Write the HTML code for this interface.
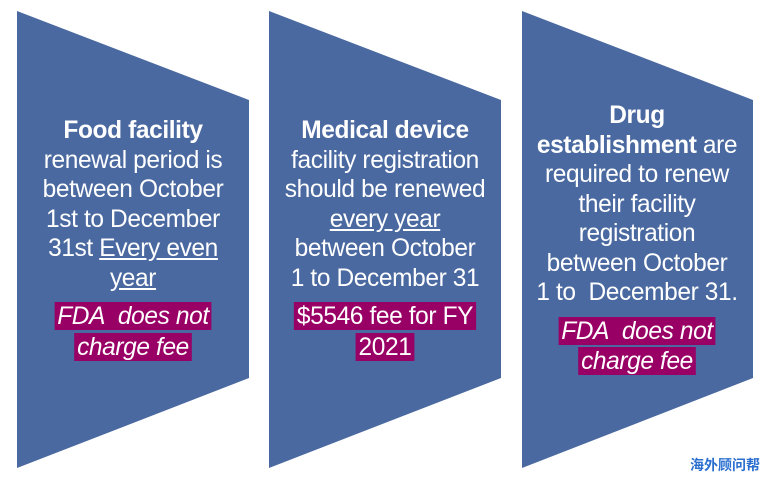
<!DOCTYPE html>
<html><head><style>
body{margin:0;width:768px;height:480px;background:#fff;overflow:hidden;position:relative;font-family:"Liberation Sans",sans-serif}
svg{position:absolute;left:0;top:0}
.t{position:absolute;color:#fff;text-align:center;font-size:25px;line-height:29.5px;letter-spacing:-0.4px;transform:scaleX(0.98);transform-origin:center top;white-space:nowrap}
.t b{font-weight:bold}
.t u{text-decoration:underline}
.f{display:inline;background:#990066;font-style:italic;font-size:25px;line-height:30px;padding:0 3px;box-decoration-break:clone;-webkit-box-decoration-break:clone}
.fw{margin-top:8px}
</style></head><body>
<svg width="768" height="480">
<g fill="#4a69a0">
<polygon points="17,11 249,100 249,378 17,468"/>
<polygon points="269,11 501,100 501,378 269,468"/>
<polygon points="522,11 753,100 753,378 522,468"/>
</g>
</svg>
<div class="t" style="left:-7px;width:280px;top:116px"><b>Food facility</b><br>renewal period is<br>between October<br>1st to December<br>31st <u>Every even</u><br><u>year</u>
<div class="fw"><span class="f">FDA&nbsp; does not<br>charge fee</span></div></div>
<div class="t" style="left:245px;width:280px;top:116px"><b>Medical device</b><br>facility registration<br>should be renewed<br><u>every year</u><br>between October<br>1 to December 31
<div class="fw"><span class="f" style="font-style:normal">$5546 fee for FY<br>2021</span></div></div>
<div class="t" style="left:497px;width:280px;top:101px"><b>Drug</b><br><b>establishment</b> are<br>required to renew<br>their facility<br>registration<br>between October<br>1 to&nbsp; December 31.
<div class="fw"><span class="f">FDA&nbsp; does not<br>charge fee</span></div></div>
<div style="position:absolute;left:690px;top:455px;font-family:'Noto Sans CJK SC',sans-serif;font-size:14px;color:#2a6fd0;font-weight:bold">海外顾问帮</div>
</body></html>
